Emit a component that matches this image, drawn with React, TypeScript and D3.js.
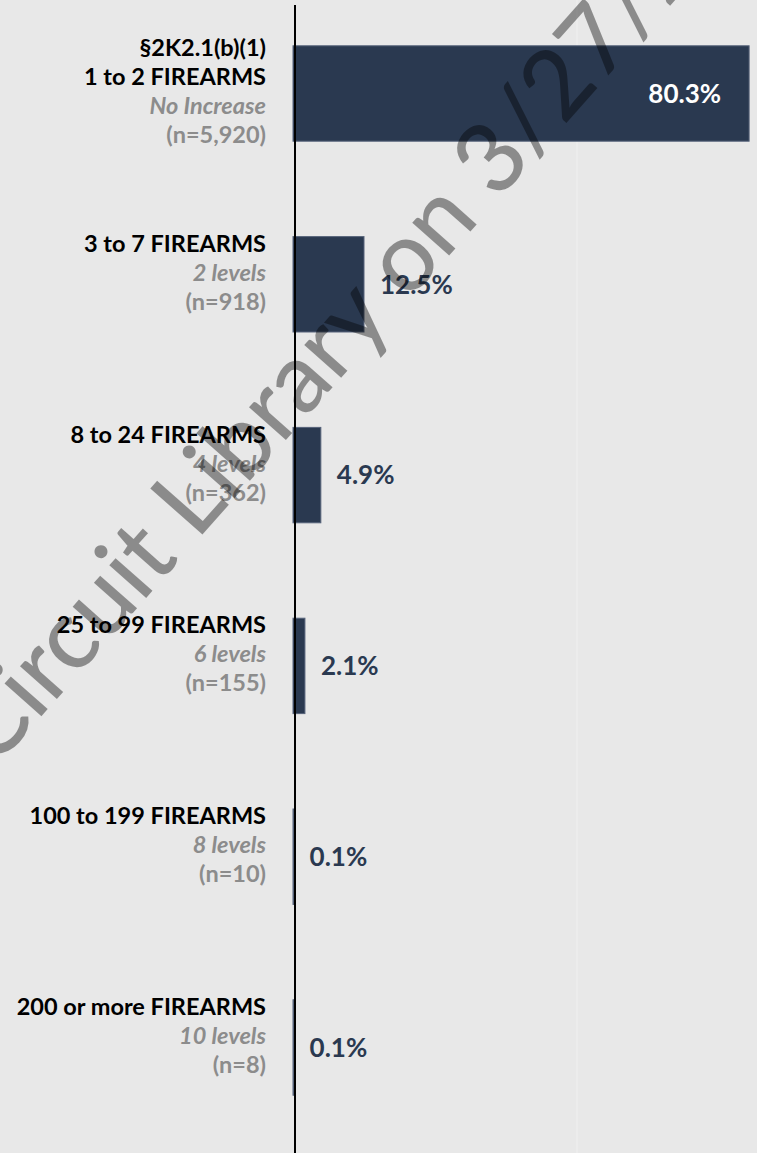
import { useEffect } from 'react'
import * as d3 from 'd3'

const guideline = ['§2K2.1(b)(1)', '', '', '', '', '']
const categories = [
  '1 to 2 FIREARMS',
  '3 to 7 FIREARMS',
  '8 to 24 FIREARMS',
  '25 to 99 FIREARMS',
  '100 to 199 FIREARMS',
  '200 or more FIREARMS',
]
const levels = ['No Increase', '2 levels', '4 levels', '6 levels', '8 levels', '10 levels']
const counts = [5920, 918, 362, 155, 10, 8]
const shares = [80.3, 12.5, 4.9, 2.1, 0.1, 0.1]

const W = 757
const H = 1153
const NAVY = '#2a3950'
const FONT = 'Lato, "Noto Sans", sans-serif'

export default function App() {
  useEffect(() => {
    document.body.style.margin = '0'
  }, [])

  const x = d3.scaleLinear().domain([0, 100]).range([293, 861])
  const y = d3.scaleBand<string>()
    .domain(categories)
    .range([0, 1141])
    .paddingInner(0.5)
    .paddingOuter(0.24)
  const lineH = 29
  const fmt = d3.format(',')

  return (
    <svg width={W} height={H} style={{ display: 'block', background: '#e8e8e8' }} fontFamily={FONT}>
      <rect width={W} height={H} fill="#e8e8e8" />
      {/* grid at 50% */}
      <line x1={x(50)} x2={x(50)} y1={0} y2={H} stroke="#eeeeee" strokeWidth={1.5} />

      {categories.map((c, i) => {
        const y0 = y(c)!
        const cy = y0 + y.bandwidth() / 2
        const w = x(shares[i]) - x(0)
        const inside = w > 150
        const lines: { t: string; kind: string }[] = []
        if (guideline[i]) lines.push({ t: guideline[i], kind: 'head' })
        lines.push({ t: c, kind: 'head' })
        lines.push({ t: levels[i], kind: 'lvl' })
        lines.push({ t: `(n=${fmt(counts[i])})`, kind: 'n' })
        const top = cy - (lines.length > 3 ? 2 : 12) - ((lines.length - 1) * lineH) / 2
        return (
          <g key={c}>
            <rect x={x(0)} y={y0} width={Math.max(w, 1)} height={y.bandwidth()}
              fill={NAVY} stroke="#56637a" strokeWidth={1} />
            <text
              x={inside ? x(shares[i]) - 28 : x(shares[i]) + 16}
              y={cy}
              dy="0.36em"
              textAnchor={inside ? 'end' : 'start'}
              fill={inside ? '#ffffff' : NAVY}
              fontSize={26}
              fontWeight={700}
            >{`${shares[i]}%`}</text>
            {lines.map((l, j) => (
              <text key={j} x={266} y={top + j * lineH} dy="0.36em" textAnchor="end"
                fontSize={23.5}
                fontWeight={700}
                fontStyle={l.kind === 'lvl' ? 'italic' : 'normal'}
                fill={l.kind === 'head' ? '#000000' : '#8c8c8c'}
              >{l.t}</text>
            ))}
          </g>
        )
      })}

      <line x1={295} x2={295} y1={5} y2={H} stroke="#000" strokeWidth={2} />

      {/* watermark */}
      <text
        transform={`translate(-6,770) rotate(-48.5)`}
        fontSize={97}
        fontWeight={500}
        fill="#000"
        fillOpacity={0.4}
        style={{ pointerEvents: 'none' }}
      >Circuit Library on 3/27/20</text>
    </svg>
  )
}
